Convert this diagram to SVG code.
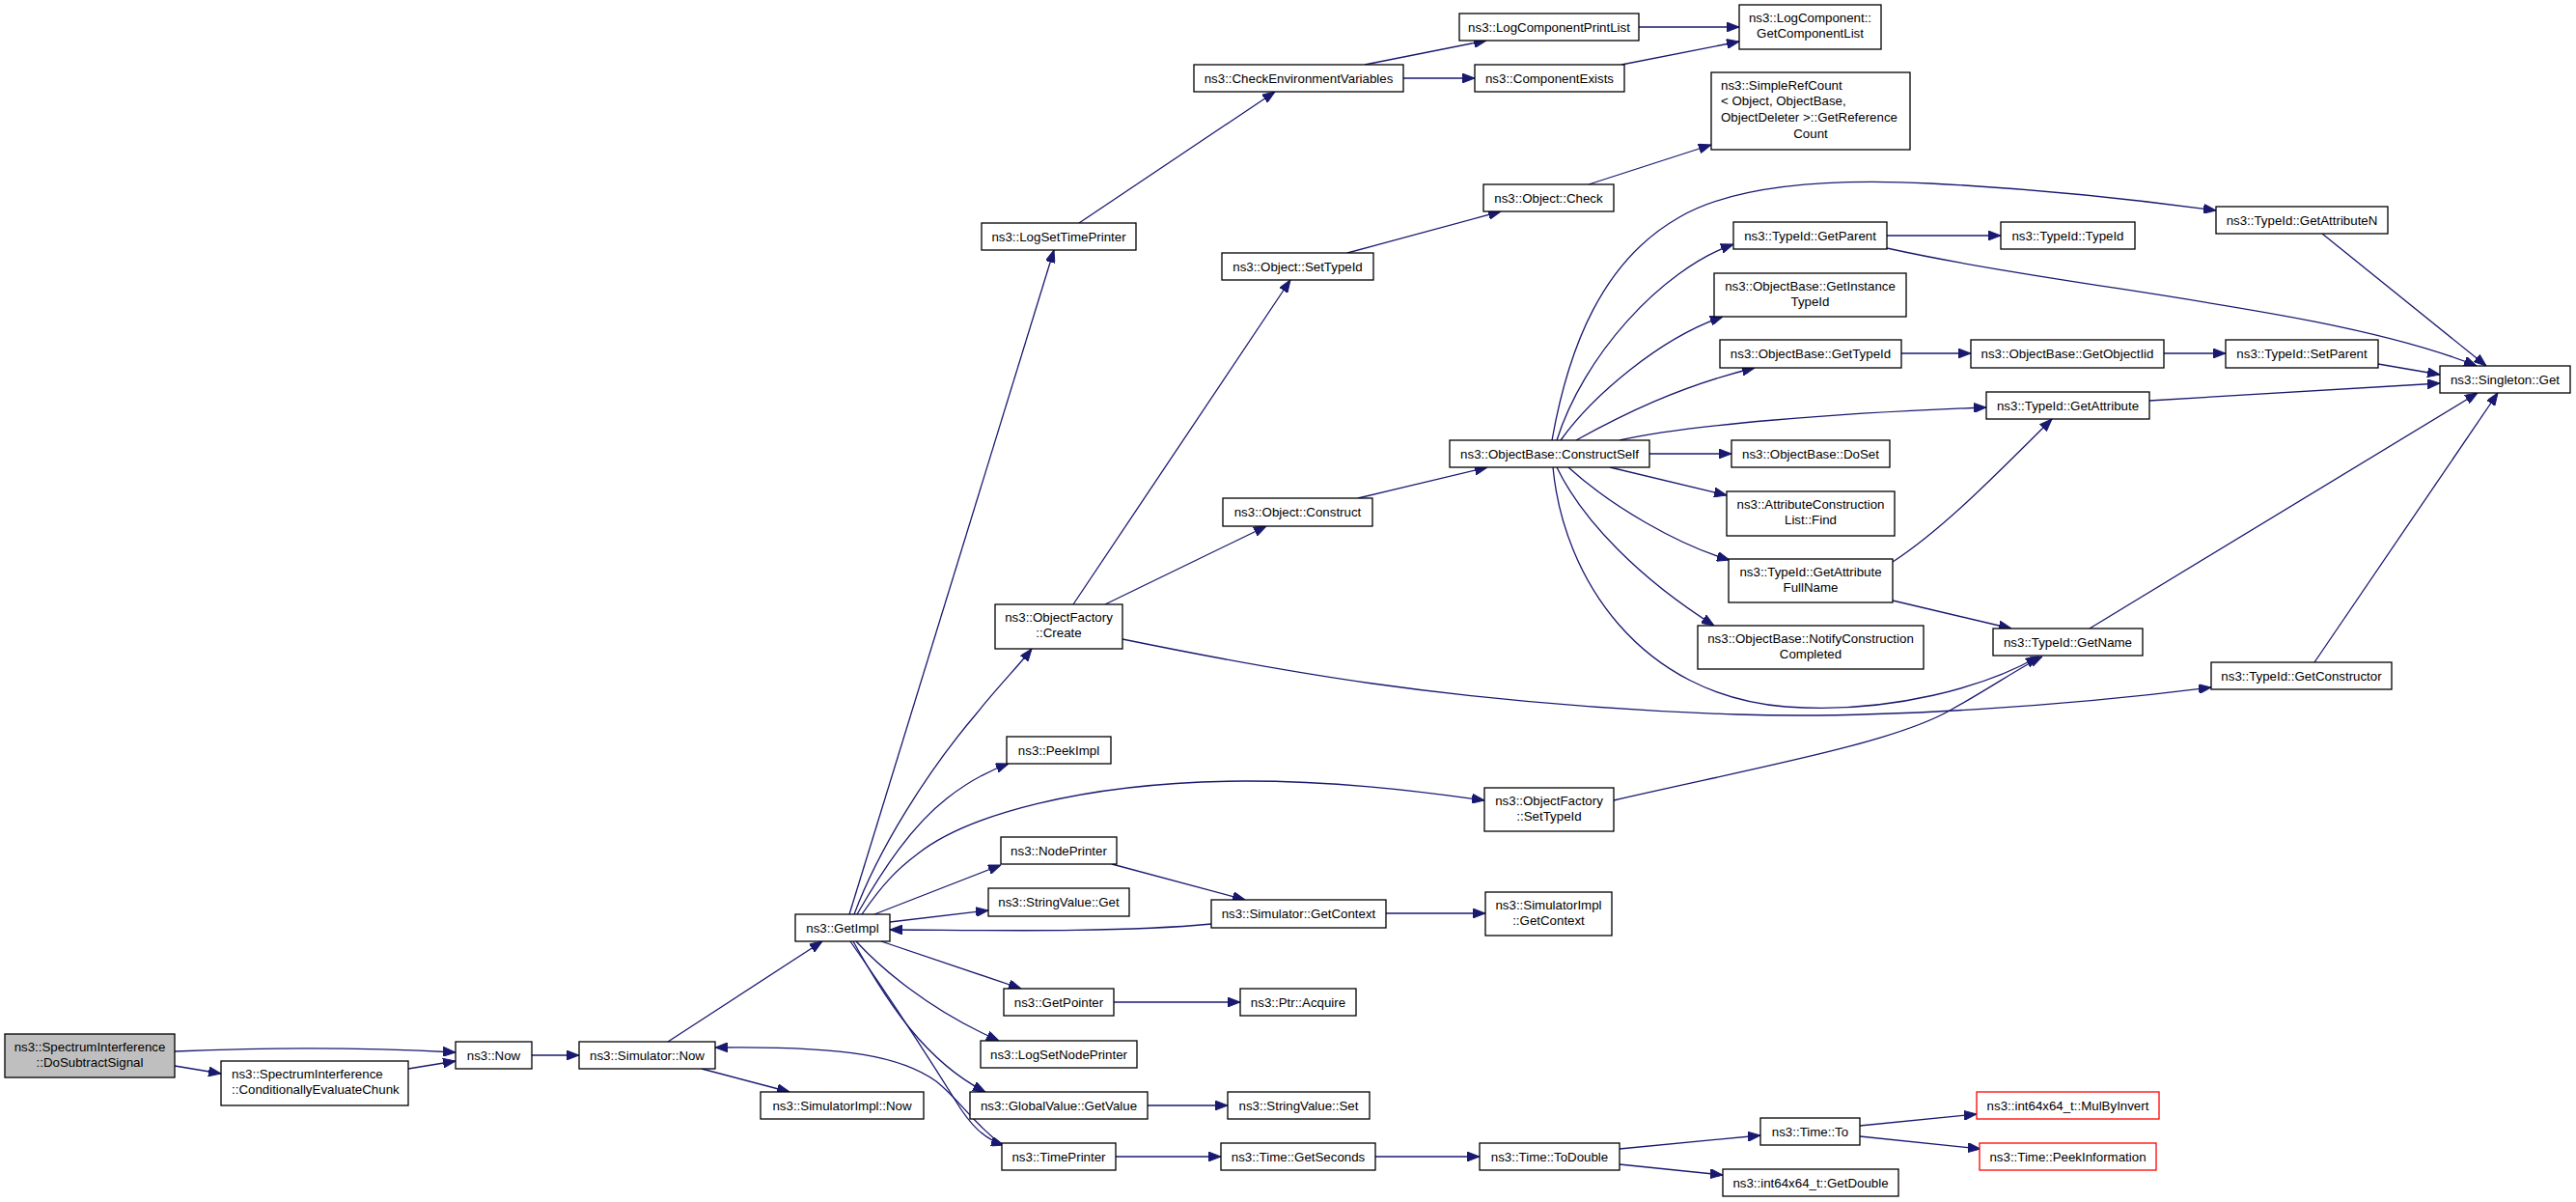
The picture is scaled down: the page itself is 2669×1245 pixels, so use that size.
<svg xmlns="http://www.w3.org/2000/svg" width="2669" height="1245" viewBox="0 0 2669 1245">
<style>
.n rect{fill:#fff;stroke:#000;stroke-width:1.3}
.n.root rect{fill:#bfbfbf}
.n.red rect{stroke:#ff0000}
.n text{font-family:"Liberation Sans",Arial,Helvetica,sans-serif;font-size:13.3px;fill:#000;text-anchor:middle}
.n text.l{text-anchor:start}
#edges path{fill:none;stroke:#191970;stroke-width:1.3;marker-end:url(#ah)}
</style>
<defs>
<marker id="ah" viewBox="0 0 13 10" refX="13" refY="5" markerWidth="13" markerHeight="10" markerUnits="userSpaceOnUse" orient="auto">
<path d="M0,0 L13,5 L0,10 z" fill="#191970" stroke="#191970" stroke-width="1"/>
</marker>
</defs>
<rect x="0" y="0" width="2669" height="1245" fill="#fff"/>
<g id="edges">
<path d="M181,1089 C270,1085 380,1085 472,1090"/>
<path d="M181,1104 L229,1112"/>
<path d="M423,1107 L472,1099"/>
<path d="M551,1093 L600,1093"/>
<path d="M692,1079 L852,975"/>
<path d="M727,1107 L818,1131"/>
<path d="M880,947 L1092,259"/>
<path d="M885,947 C910,880 960,800 1011,740 C1035,710 1055,690 1069,672"/>
<path d="M888,947 C915,900 945,855 981,827 C1000,812 1020,800 1045,791"/>
<path d="M893,947 C915,915 930,900 950,885 C1000,845 1120,810 1290,809 C1380,809 1460,818 1538,829"/>
<path d="M906,947 L1037,896"/>
<path d="M922,955 L1024,943"/>
<path d="M1255,957 C1150,967 1000,963 922,963"/>
<path d="M913,975 L1058,1024"/>
<path d="M887,975 C910,1000 960,1045 1035,1078"/>
<path d="M884,975 C920,1040 960,1100 1021,1131"/>
<path d="M881,975 C930,1045 965,1100 990,1140 C1005,1165 1020,1180 1040,1186"/>
<path d="M1036,1184 C1005,1160 995,1140 970,1120 C935,1095 880,1083 741,1085"/>
<path d="M1118,231 L1321,95"/>
<path d="M1414,67 L1540,42"/>
<path d="M1454,81 L1528,81"/>
<path d="M1698,28 L1802,28"/>
<path d="M1680,67 L1802,43"/>
<path d="M1646,191 L1773,150"/>
<path d="M1396,262 L1555,219"/>
<path d="M1112,626 L1337,290"/>
<path d="M1145,626 L1312,545"/>
<path d="M1163,662 C1300,690 1500,730 1800,740 C1950,745 2150,730 2291,712"/>
<path d="M1407,516 L1541,484"/>
<path d="M1608,456 C1625,360 1660,270 1740,225 C1800,190 1900,185 2000,190 C2100,195 2200,205 2296,218"/>
<path d="M1613,456 C1640,370 1720,280 1796,253"/>
<path d="M1617,456 C1650,410 1720,350 1785,328"/>
<path d="M1633,456 C1680,430 1740,400 1818,381"/>
<path d="M1678,456 C1750,440 1900,428 2058,422"/>
<path d="M1709,470 L1794,470"/>
<path d="M1668,484 L1789,513"/>
<path d="M1625,484 C1670,525 1740,565 1792,580"/>
<path d="M1613,484 C1640,540 1700,600 1776,648"/>
<path d="M1609,484 C1620,600 1700,720 1850,732 C1960,740 2060,710 2112,680"/>
<path d="M1955,244 L2073,244"/>
<path d="M1955,257 C2150,300 2420,320 2566,379"/>
<path d="M2406,242 L2576,379"/>
<path d="M1970,366 L2042,366"/>
<path d="M2242,366 L2306,366"/>
<path d="M2464,377 L2528,388"/>
<path d="M2227,415 L2528,397"/>
<path d="M1961,582 C2010,550 2060,500 2126,434"/>
<path d="M1961,622 L2084,651"/>
<path d="M2165,651 L2567,407"/>
<path d="M2398,686 L2588,407"/>
<path d="M1672,829 C1820,795 1960,770 2020,736 C2060,714 2095,690 2116,680"/>
<path d="M1152,895 L1290,932"/>
<path d="M1436,946 L1539,946"/>
<path d="M1154,1038 L1285,1038"/>
<path d="M1189,1145 L1272,1145"/>
<path d="M1156,1198 L1265,1198"/>
<path d="M1425,1198 L1533,1198"/>
<path d="M1678,1190 L1824,1176"/>
<path d="M1678,1206 L1785,1217"/>
<path d="M1927,1166 L2048,1154"/>
<path d="M1927,1177 L2052,1190"/>
</g>
<g id="n_DoSubtractSignal" class="n root"><rect x="5" y="1071" width="176" height="45"/><text x="93" y="1088.5">ns3::SpectrumInterference</text><text x="93" y="1105">::DoSubtractSignal</text></g>
<g id="n_ConditionallyEvaluateChunk" class="n"><rect x="229" y="1099" width="194" height="46"/><text class="l" x="240" y="1116.5">ns3::SpectrumInterference</text><text class="l" x="240" y="1133">::ConditionallyEvaluateChunk</text></g>
<g id="n_Now" class="n"><rect x="472" y="1079" width="79" height="28"/><text x="511.5" y="1098">ns3::Now</text></g>
<g id="n_SimulatorNow" class="n"><rect x="600" y="1079" width="141" height="28"/><text x="670.5" y="1098">ns3::Simulator::Now</text></g>
<g id="n_SimulatorImplNow" class="n"><rect x="788" y="1131" width="169" height="28"/><text x="872.5" y="1150">ns3::SimulatorImpl::Now</text></g>
<g id="n_GetImpl" class="n"><rect x="824" y="947" width="98" height="28"/><text x="873" y="966">ns3::GetImpl</text></g>
<g id="n_LogSetTimePrinter" class="n"><rect x="1017" y="231" width="160" height="28"/><text x="1097" y="250">ns3::LogSetTimePrinter</text></g>
<g id="n_CheckEnvironmentVariables" class="n"><rect x="1237" y="67" width="217" height="28"/><text x="1345.5" y="86">ns3::CheckEnvironmentVariables</text></g>
<g id="n_LogComponentPrintList" class="n"><rect x="1512" y="14" width="186" height="28"/><text x="1605" y="33">ns3::LogComponentPrintList</text></g>
<g id="n_GetComponentList" class="n"><rect x="1802" y="5" width="147" height="46"/><text x="1875.5" y="22.5">ns3::LogComponent::</text><text x="1875.5" y="39">GetComponentList</text></g>
<g id="n_ComponentExists" class="n"><rect x="1528" y="67" width="155" height="28"/><text x="1605.5" y="86">ns3::ComponentExists</text></g>
<g id="n_SimpleRefCount" class="n"><rect x="1773" y="75" width="206" height="80"/><text class="l" x="1783" y="92.5">ns3::SimpleRefCount</text><text class="l" x="1783" y="109.2">&lt; Object, ObjectBase,</text><text class="l" x="1783" y="125.9"> ObjectDeleter &gt;::GetReference</text><text x="1876" y="142.6">Count</text></g>
<g id="n_ObjectCheck" class="n"><rect x="1537" y="191" width="135" height="28"/><text x="1604.5" y="210">ns3::Object::Check</text></g>
<g id="n_ObjectSetTypeId" class="n"><rect x="1266" y="262" width="157" height="28"/><text x="1344.5" y="281">ns3::Object::SetTypeId</text></g>
<g id="n_GetAttributeN" class="n"><rect x="2296" y="214" width="178" height="28"/><text x="2385" y="233">ns3::TypeId::GetAttributeN</text></g>
<g id="n_GetParent" class="n"><rect x="1796" y="230" width="159" height="28"/><text x="1875.5" y="249">ns3::TypeId::GetParent</text></g>
<g id="n_TypeIdTypeId" class="n"><rect x="2073" y="230" width="139" height="28"/><text x="2142.5" y="249">ns3::TypeId::TypeId</text></g>
<g id="n_GetInstanceTypeId" class="n"><rect x="1776" y="283" width="199" height="45"/><text x="1875.5" y="300.5">ns3::ObjectBase::GetInstance</text><text x="1875.5" y="317">TypeId</text></g>
<g id="n_ObjectBaseGetTypeId" class="n"><rect x="1782" y="352" width="188" height="29"/><text x="1876" y="371">ns3::ObjectBase::GetTypeId</text></g>
<g id="n_GetObjectIid" class="n"><rect x="2042" y="352" width="200" height="29"/><text x="2142" y="371">ns3::ObjectBase::GetObjectIid</text></g>
<g id="n_SetParent" class="n"><rect x="2306" y="352" width="158" height="29"/><text x="2385" y="371">ns3::TypeId::SetParent</text></g>
<g id="n_SingletonGet" class="n"><rect x="2528" y="379" width="135" height="28"/><text x="2595.5" y="398">ns3::Singleton::Get</text></g>
<g id="n_GetAttribute" class="n"><rect x="2058" y="406" width="169" height="28"/><text x="2142.5" y="425">ns3::TypeId::GetAttribute</text></g>
<g id="n_ConstructSelf" class="n"><rect x="1502" y="456" width="207" height="28"/><text x="1605.5" y="475">ns3::ObjectBase::ConstructSelf</text></g>
<g id="n_DoSet" class="n"><rect x="1794" y="456" width="164" height="28"/><text x="1876" y="475">ns3::ObjectBase::DoSet</text></g>
<g id="n_Find" class="n"><rect x="1789" y="509" width="174" height="46"/><text x="1876" y="526.5">ns3::AttributeConstruction</text><text x="1876" y="543">List::Find</text></g>
<g id="n_GetAttributeFullName" class="n"><rect x="1791" y="579" width="170" height="45"/><text x="1876" y="596.5">ns3::TypeId::GetAttribute</text><text x="1876" y="613">FullName</text></g>
<g id="n_NotifyConstructionCompleted" class="n"><rect x="1759" y="648" width="234" height="45"/><text x="1876" y="665.5">ns3::ObjectBase::NotifyConstruction</text><text x="1876" y="682">Completed</text></g>
<g id="n_GetName" class="n"><rect x="2065" y="651" width="155" height="28"/><text x="2142.5" y="670">ns3::TypeId::GetName</text></g>
<g id="n_GetConstructor" class="n"><rect x="2291" y="686" width="187" height="28"/><text x="2384.5" y="705">ns3::TypeId::GetConstructor</text></g>
<g id="n_ObjectConstruct" class="n"><rect x="1267" y="516" width="155" height="29"/><text x="1344.5" y="535">ns3::Object::Construct</text></g>
<g id="n_ObjectFactoryCreate" class="n"><rect x="1031" y="626" width="132" height="46"/><text x="1097" y="643.5">ns3::ObjectFactory</text><text x="1097" y="660">::Create</text></g>
<g id="n_PeekImpl" class="n"><rect x="1043" y="763" width="108" height="28"/><text x="1097" y="782">ns3::PeekImpl</text></g>
<g id="n_ObjectFactorySetTypeId" class="n"><rect x="1538" y="816" width="134" height="45"/><text x="1605" y="833.5">ns3::ObjectFactory</text><text x="1605" y="850">::SetTypeId</text></g>
<g id="n_NodePrinter" class="n"><rect x="1037" y="867" width="120" height="28"/><text x="1097" y="886">ns3::NodePrinter</text></g>
<g id="n_StringValueGet" class="n"><rect x="1024" y="920" width="146" height="29"/><text x="1097" y="939">ns3::StringValue::Get</text></g>
<g id="n_SimulatorGetContext" class="n"><rect x="1255" y="932" width="181" height="29"/><text x="1345.5" y="951">ns3::Simulator::GetContext</text></g>
<g id="n_SimulatorImplGetContext" class="n"><rect x="1539" y="924" width="131" height="45"/><text x="1604.5" y="941.5">ns3::SimulatorImpl</text><text x="1604.5" y="958">::GetContext</text></g>
<g id="n_GetPointer" class="n"><rect x="1040" y="1024" width="114" height="28"/><text x="1097" y="1043">ns3::GetPointer</text></g>
<g id="n_PtrAcquire" class="n"><rect x="1285" y="1024" width="120" height="28"/><text x="1345" y="1043">ns3::Ptr::Acquire</text></g>
<g id="n_LogSetNodePrinter" class="n"><rect x="1016" y="1078" width="162" height="28"/><text x="1097" y="1097">ns3::LogSetNodePrinter</text></g>
<g id="n_GlobalValueGetValue" class="n"><rect x="1005" y="1131" width="184" height="28"/><text x="1097" y="1150">ns3::GlobalValue::GetValue</text></g>
<g id="n_StringValueSet" class="n"><rect x="1272" y="1131" width="147" height="28"/><text x="1345.5" y="1150">ns3::StringValue::Set</text></g>
<g id="n_TimePrinter" class="n"><rect x="1038" y="1184" width="118" height="28"/><text x="1097" y="1203">ns3::TimePrinter</text></g>
<g id="n_TimeGetSeconds" class="n"><rect x="1265" y="1184" width="160" height="28"/><text x="1345" y="1203">ns3::Time::GetSeconds</text></g>
<g id="n_TimeToDouble" class="n"><rect x="1533" y="1184" width="145" height="28"/><text x="1605.5" y="1203">ns3::Time::ToDouble</text></g>
<g id="n_TimeTo" class="n"><rect x="1824" y="1158" width="103" height="28"/><text x="1875.5" y="1177">ns3::Time::To</text></g>
<g id="n_GetDouble" class="n"><rect x="1785" y="1211" width="182" height="28"/><text x="1876" y="1230">ns3::int64x64_t::GetDouble</text></g>
<g id="n_MulByInvert" class="n red"><rect x="2048" y="1131" width="189" height="28"/><text x="2142.5" y="1150">ns3::int64x64_t::MulByInvert</text></g>
<g id="n_PeekInformation" class="n red"><rect x="2051" y="1184" width="183" height="28"/><text x="2142.5" y="1203">ns3::Time::PeekInformation</text></g>
</svg>
